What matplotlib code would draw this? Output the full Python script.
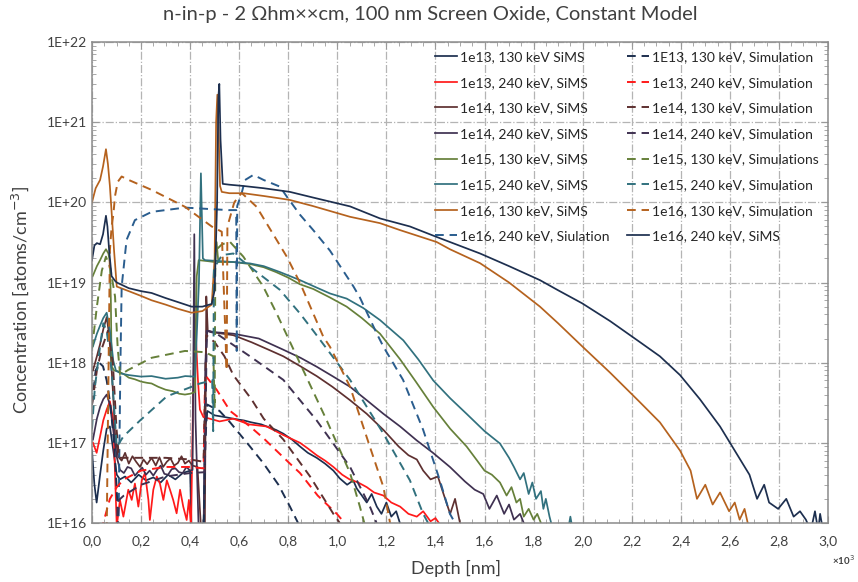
import numpy as np
import matplotlib
matplotlib.use("Agg")
import matplotlib.pyplot as plt
from matplotlib.ticker import MultipleLocator, FuncFormatter, LogLocator, NullFormatter

plt.rcParams['font.family'] = ['Lato', 'DejaVu Sans']

# ---- SIMS profiles (depth in nm, concentration in atoms/cm^3) ----
d_13_130 = [0, 10, 19, 33, 46, 60, 73, 87, 101, 114, 135, 160, 190, 220, 250, 280, 310, 340, 370, 400,
            406, 455, 462, 470, 500, 540, 576, 620, 650, 690, 712, 750, 780, 815, 848, 880, 916, 950, 984, 1010,
            1040, 1065, 1079, 1100, 1120, 1140, 1161, 1180, 1200, 1220, 1240, 1255]
c_13_130 = [8e16, 3e16, 1.8e16, 4e16, 8e16, 1.5e17, 1.6e17, 8e16, 4e16, 3.5e16, 3.8e16, 3.2e16, 4e16, 3.4e16, 3.7e16, 3.2e16, 4e16, 3.5e16, 4.2e16, 4.5e16,
            8e15, 8e15, 1.5e17, 2.5e17, 2.2e17, 2.1e17, 2.0e17, 1.9e17, 1.8e17, 1.7e17, 1.6e17, 1.45e17, 1.3e17, 1.1e17, 9e16, 7.5e16, 6.5e16, 5.5e16, 4.5e16, 3.6e16,
            3.0e16, 3.4e16, 2.7e16, 2.2e16, 1.8e16, 2.3e16, 1.6e16, 1.3e16, 1.8e16, 1.2e16, 1.4e16, 1e16]

d_13_240 = [4, 19, 33, 46, 60, 73, 87, 101, 114, 128, 148, 162, 175, 189, 203, 216, 230, 236, 250, 264,
            277, 291, 305, 318, 331, 345, 359, 372, 386, 395, 404, 412, 420, 432, 440, 454, 480, 520, 576, 640,
            712, 780, 848, 880, 916, 950, 984, 1020, 1050, 1085, 1120, 1150, 1188, 1220, 1256, 1290, 1324, 1350, 1380, 1400, 1425]
c_13_240 = [1e17, 7.5e16, 1.2e17, 1.9e17, 2.6e17, 3.3e17, 1.9e17, 9e15, 1.94e16, 1.2e16, 2.6e16, 1.94e16, 3.1e16, 1.6e16, 3.4e16, 4.2e16, 1.94e16, 1.09e16, 2.6e16, 3.8e16,
            3.1e16, 1.94e16, 3.4e16, 2.6e16, 1.94e16, 1.32e16, 2.6e16, 1.6e16, 1.09e16, 1.94e16, 9e15, 3.5e17, 3.5e18, 6e17, 2.6e17, 2.1e17, 2.0e17, 1.85e17, 2.0e17, 1.7e17,
            1.6e17, 1.25e17, 1.0e17, 8.5e16, 7e16, 6e16, 5e16, 4e16, 3.5e16, 3.2e16, 2.8e16, 2.4e16, 2.2e16, 1.8e16, 1.6e16, 1.3e16, 1.2e16, 1.4e16, 1.05e16, 1.15e16, 9e15]

d_14_130 = [4, 20, 33, 46, 60, 73, 87, 94, 107, 121, 135, 150, 165, 180, 196, 210, 225, 243, 260, 275,
            290, 305, 320, 335, 350, 365, 379, 395, 410, 430, 445, 460, 466, 472, 490, 576, 650, 720, 780, 850,
            916, 980, 1052, 1120, 1188, 1250, 1290, 1324, 1350, 1380, 1410, 1433, 1460, 1480, 1500]
c_14_130 = [8e17, 1.2e18, 1.7e18, 2.6e18, 3.7e18, 1.9e18, 3.6e17, 1.3e17, 6.7e16, 6e16, 7.5e16, 5.5e16, 6.8e16, 5.8e16, 5e16, 6.2e16, 5.4e16, 6.5e16, 5.2e16, 6.6e16,
            5e16, 5.8e16, 6.4e16, 5.2e16, 5.6e16, 6.8e16, 5.5e16, 6e16, 5.2e16, 5e16, 8e15, 8e15, 6.7e18, 2.5e18, 2.4e18, 2.2e18, 1.8e18, 1.45e18, 1.2e18, 9e17,
            6.8e17, 5e17, 3.4e17, 2.3e17, 1.45e17, 9e16, 7e16, 6.2e16, 4.5e16, 3.5e16, 3.8e16, 2.3e16, 1.3e16, 2e16, 1e16]

d_14_240 = [4, 20, 33, 46, 60, 73, 87, 101, 114, 130, 145, 160, 175, 190, 205, 220, 235, 250, 265, 280,
            295, 310, 325, 340, 355, 370, 385, 400, 410, 417, 422, 435, 455, 462, 470, 500, 576, 680, 780, 850,
            916, 980, 1052, 1120, 1188, 1256, 1324, 1390, 1459, 1520, 1560, 1595, 1620, 1650, 1680, 1700, 1720, 1745, 1760]
c_14_240 = [1.1e17, 2e17, 2.8e17, 3.5e17, 4e17, 3e17, 1.45e17, 6.7e16, 4.6e16, 4.2e16, 5e16, 4.8e16, 3.9e16, 4.4e16, 4.9e16, 4e16, 4.5e16, 3.9e16, 4.6e16, 5.2e16,
            4.1e16, 4e16, 4.7e16, 4.8e16, 4.3e16, 4.2e16, 5e16, 4.5e16, 4.6e16, 4e19, 2e17, 8e15, 8e15, 1e18, 2.5e18, 2.4e18, 2.3e18, 2.0e18, 1.45e18, 1.15e18,
            8.9e17, 6.8e17, 5e17, 3.4e17, 2.3e17, 1.6e17, 1.07e17, 7.5e16, 5e16, 3.3e16, 2.6e16, 2.3e16, 1.5e16, 2.2e16, 1.3e16, 1.7e16, 1.1e16, 1.3e16, 1e16]

d_15_130 = [3, 20, 33, 46, 57, 67, 73, 77, 80, 90, 107, 130, 150, 175, 200, 225, 243, 270, 300, 330,
            355, 379, 400, 420, 427, 435, 470, 500, 508, 515, 540, 576, 644, 700, 750, 800, 848, 902, 970, 1038,
            1100, 1174, 1256, 1320, 1391, 1460, 1527, 1570, 1600, 1630, 1663, 1690, 1710, 1730, 1745, 1760, 1780, 1800, 1815, 1830]
c_15_130 = [1.2e19, 1.6e19, 1.9e19, 2.3e19, 2.6e19, 2.3e19, 1.8e19, 6e18, 9e17, 8e17, 7.8e17, 7.2e17, 6.5e17, 6.2e17, 5.8e17, 5.6e17, 5.5e17, 5e17, 4.6e17, 4.4e17,
            4.1e17, 4e17, 4.1e17, 4.3e17, 1.2e19, 1.9e19, 1.85e19, 1.8e19, 3.2e19, 1.8e19, 1.8e19, 1.8e19, 1.7e19, 1.55e19, 1.35e19, 1.15e19, 9.5e18, 8.3e18, 6.5e18, 5e18,
            3.6e18, 2.3e18, 1.1e18, 5.8e17, 2.8e17, 1.5e17, 9e16, 6e16, 4.5e16, 4e16, 3.2e16, 2.2e16, 2.8e16, 1.8e16, 2e16, 1.2e16, 1.5e16, 1.1e16, 1.3e16, 1e16]

d_15_240 = [4, 20, 33, 46, 60, 73, 87, 98, 120, 150, 200, 243, 300, 350, 380, 420, 436, 444, 452, 461,
            520, 576, 644, 700, 766, 848, 910, 970, 1038, 1106, 1174, 1269, 1330, 1391, 1460, 1527, 1600, 1663, 1700, 1720,
            1745, 1760, 1780, 1795, 1810, 1830, 1840, 1850, 1865, 1880, 1940, 1950, 1960]
c_15_240 = [1.6e18, 2.3e18, 2.9e18, 3.6e18, 4.2e18, 2.5e18, 1.05e18, 7.9e17, 7.3e17, 7e17, 6.7e17, 6.8e17, 6.3e17, 6.5e17, 6.8e17, 6.7e17, 1e19, 2.3e20, 2e19, 1.9e19,
            1.85e19, 1.8e19, 1.73e19, 1.6e19, 1.35e19, 1.07e19, 8.8e18, 7.3e18, 6.3e18, 4.8e18, 3.4e18, 1.9e18, 1.1e18, 6e17, 3.6e17, 2.3e17, 1.4e17, 9.8e16, 6.5e16, 5e16,
            3.5e16, 4.2e16, 2.3e16, 3.2e16, 2e16, 2.5e16, 1.5e16, 2e16, 1.2e16, 8e15, 8e15, 1.2e16, 8e15]

d_16_130 = [0, 15, 33, 45, 57, 65, 73, 80, 90, 101, 150, 200, 243, 300, 350, 406, 450, 488, 500, 506,
            511, 516, 522, 529, 560, 617, 700, 766, 807, 900, 1052, 1174, 1256, 1405, 1459, 1582, 1700, 1826, 1900, 1998,
            2112, 2234, 2315, 2397, 2440, 2466, 2500, 2530, 2560, 2597, 2620, 2640, 2660, 2680]
c_16_130 = [1e20, 1.5e20, 1.9e20, 2.8e20, 4.6e20, 3e20, 1.6e20, 7.6e19, 2.5e19, 8.9e18, 7.8e18, 6.8e18, 6e18, 5.3e18, 4.7e18, 4.2e18, 4.4e18, 5.3e18, 2e19, 1e21,
            2.2e21, 8e20, 1.6e20, 1.35e20, 1.3e20, 1.3e20, 1.2e20, 1.12e20, 1.07e20, 9e19, 6.6e19, 5.5e19, 4.5e19, 3.2e19, 2.6e19, 1.74e19, 1e19, 5e18, 3.1e18, 1.6e18,
            7.5e17, 3.2e17, 1.8e17, 8e16, 4.5e16, 2e16, 3e16, 1.7e16, 2.4e16, 1.4e16, 1.8e16, 1.1e16, 1.5e16, 8e15]

d_16_240 = [0, 10, 20, 33, 45, 57, 63, 70, 80, 94, 101, 150, 200, 243, 300, 350, 406, 450, 488, 500,
            510, 515, 519, 524, 533, 560, 617, 700, 807, 900, 1052, 1174, 1296, 1405, 1459, 1582, 1700, 1826, 1900, 1998,
            2112, 2234, 2315, 2397, 2478, 2560, 2620, 2680, 2711, 2740, 2760, 2797, 2830, 2860, 2886, 2910, 2930, 2947, 2960, 2968, 2980]
c_16_240 = [1.9e19, 2.9e19, 3.1e19, 3e19, 4e19, 6.8e19, 5e19, 2.5e19, 1.2e19, 1.05e19, 1e19, 8.5e18, 7.8e18, 7.4e18, 6.4e18, 5.7e18, 5e18, 5e18, 5.4e18, 8e18,
            1e20, 2e21, 3e21, 6e20, 1.7e20, 1.66e20, 1.6e20, 1.5e20, 1.35e20, 1.15e20, 8.9e19, 6.3e19, 5e19, 3.7e19, 3.2e19, 2.3e19, 1.6e19, 1.07e19, 8e18, 5.5e18,
            3.3e18, 1.8e18, 1.2e18, 7e17, 3.5e17, 1.6e17, 8e16, 4e16, 2e16, 3e16, 1.8e16, 1.5e16, 2e16, 1.2e16, 1.4e16, 1.1e16, 8e15, 1.4e16, 8e15, 1.3e16, 8e15]

# ---- simulated profiles ----
ds_13_130 = [0, 15, 30, 45, 60, 75, 90, 100, 108, 455, 462, 470, 520, 563, 644, 698, 760, 807, 840]
cs_13_130 = [3e17, 8e17, 1e18, 9e17, 6e17, 3e17, 1e17, 3e16, 8e15, 8e15, 1e17, 3e17, 2.5e17, 1.8e17, 9e16, 5.6e16, 3e16, 1.6e16, 1e16]

ds_13_240 = [40, 46, 73, 101, 130, 200, 300, 400, 455, 461, 508, 563, 644, 698, 807, 848, 920, 998, 1030]
cs_13_240 = [8e15, 1e16, 2e16, 2.8e16, 3.5e16, 4.5e16, 5e16, 5e16, 4.8e16, 7e17, 4.6e17, 2.5e17, 1.6e17, 1.15e17, 5.5e16, 4.2e16, 2.2e16, 1.3e16, 1e16]

ds_14_130 = [0, 20, 40, 65, 85, 100, 110, 150, 200, 300, 400, 455, 466, 500, 540, 576, 650, 700, 780, 889, 984, 1010]
cs_14_130 = [3e17, 8e17, 1.5e18, 2.5e18, 1e18, 1.5e17, 6.5e16, 6.5e16, 6.5e16, 6.5e16, 6.2e16, 5.8e16, 2.2e18, 1.8e18, 1.2e18, 7e17, 3.5e17, 2e17, 1.1e17, 3.8e16, 1.3e16, 1e16]

ds_14_240 = [100, 107, 130, 200, 300, 400, 460, 468, 508, 644, 780, 916, 1052, 1133, 1160]
cs_14_240 = [8e15, 1.9e16, 2.2e16, 3e16, 3.8e16, 4.2e16, 4.3e16, 2.5e18, 2.3e18, 1.2e18, 6.1e17, 1.9e17, 5e16, 1.6e16, 1e16]

ds_15_130 = [0, 20, 40, 57, 75, 94, 105, 115, 147, 243, 379, 461, 495, 500, 503, 530, 563, 617, 698, 753, 848, 957, 1052, 1092, 1110]
cs_15_130 = [1.5e18, 5e18, 1.4e19, 2.1e19, 1.5e19, 6.7e18, 1.5e18, 7e17, 8.1e17, 1.15e18, 1.4e18, 1.35e18, 1.2e18, 2.7e17, 2.5e19, 3e19, 3.2e19, 2.1e19, 8.9e18, 4.1e18, 9.8e17, 1.9e17, 4.2e16, 1.6e16, 1e16]

ds_15_240 = [0, 12, 33, 46, 60, 80, 101, 128, 196, 305, 406, 440, 490, 494, 497, 530, 576, 644, 766, 848, 902, 1052, 1188, 1296, 1350, 1370]
cs_15_240 = [1.5e17, 5e17, 1.6e18, 3.1e18, 2.5e18, 8e17, 8.9e16, 1.2e17, 1.9e17, 3.8e17, 5e17, 5.5e17, 6e17, 1.4e17, 1.5e19, 2.2e19, 2.3e19, 1.57e19, 8.1e18, 4.1e18, 2.5e18, 6.1e17, 1.3e17, 3.4e16, 1.3e16, 1e16]

ds_16_130 = [60, 73, 80, 87, 94, 105, 121, 150, 243, 379, 488, 529, 549, 552, 580, 610, 671, 794, 848, 943, 970, 1052, 1133, 1188, 1215]
cs_16_130 = [8e15, 2.5e19, 5e19, 7e19, 1.2e20, 1.8e20, 2.1e20, 1.9e20, 1.43e20, 8.8e19, 5e19, 4.3e19, 8e17, 5e19, 1e20, 1.31e20, 8.8e19, 2.1e19, 9.9e18, 2.1e18, 1.58e18, 5e17, 8.9e16, 2.8e16, 1e16]

ds_16_240 = [108, 112, 116, 121, 141, 175, 243, 379, 556, 588, 590, 592, 610, 624, 658, 700, 766, 794, 848, 902,
             970, 1065, 1092, 1161, 1188, 1268, 1350, 1418, 1459, 1480]
cs_16_240 = [8e15, 1e17, 1e18, 8.9e18, 3.4e19, 6e19, 7.6e19, 8.6e19, 8e19, 8e19, 1.4e18, 9e19, 1.3e20, 1.9e20, 2.2e20, 1.9e20, 1.57e20, 1.18e20, 7e19, 4.5e19,
             2.5e19, 9e18, 6.5e18, 2.3e18, 1.58e18, 6.1e17, 1.45e17, 3.4e16, 1.3e16, 1e16]

navy = '#1d2f4f'
red = '#ff1a1a'
brown = '#5e3030'
purple = '#3f3151'
green = '#66803a'
teal = '#31717e'
orange = '#b5621e'
blue = '#2a5d8e'
dash = (0, (4.5, 3))

# order follows the legend (column 1, then column 2)
lines = [
    (d_13_130, c_13_130, navy, '-', '1e13, 130 keV SiMS'),
    (d_13_240, c_13_240, red, '-', '1e13, 240 keV, SiMS'),
    (d_14_130, c_14_130, brown, '-', '1e14, 130 keV, SiMS'),
    (d_14_240, c_14_240, purple, '-', '1e14, 240 keV, SiMS'),
    (d_15_130, c_15_130, green, '-', '1e15, 130 keV, SiMS'),
    (d_15_240, c_15_240, teal, '-', '1e15, 240 keV, SiMS'),
    (d_16_130, c_16_130, orange, '-', '1e16, 130 keV, SiMS'),
    (ds_16_240, cs_16_240, blue, dash, '1e16, 240 keV, Siulation'),
    (ds_13_130, cs_13_130, navy, dash, '1E13, 130 keV, Simulation'),
    (ds_13_240, cs_13_240, red, dash, '1e13, 240 keV, Simulation'),
    (ds_14_130, cs_14_130, brown, dash, '1e14, 130 keV, Simulation'),
    (ds_14_240, cs_14_240, purple, dash, '1e14, 240 keV, Simulation'),
    (ds_15_130, cs_15_130, green, dash, '1e15, 130 keV, Simulations'),
    (ds_15_240, cs_15_240, teal, dash, '1e15, 240 keV, Simulation'),
    (ds_16_130, cs_16_130, orange, dash, '1e16, 130 keV, Simulation'),
    (d_16_240, c_16_240, navy, '-', '1e16, 240 keV, SiMS'),
]

fig = plt.figure(figsize=(8.58, 5.82), dpi=100)
ax = fig.add_axes([0.1072, 0.1014, 0.8578, 0.8264])

for d, c, col, ls, lab in lines:
    lw = 1.25 if ls == '-' else 1.4
    ax.plot(d, c, color=col, linestyle=ls, linewidth=lw, label=lab)

ax.set_yscale('log')
ax.set_xlim(0, 3000)
ax.set_ylim(1e16, 1e22)

ax.xaxis.set_major_locator(MultipleLocator(200))
ax.xaxis.set_minor_locator(MultipleLocator(50))
ax.xaxis.set_major_formatter(FuncFormatter(lambda v, p: f"{v/1000:.1f}".replace('.', ',')))
ax.yaxis.set_major_locator(LogLocator(base=10, numticks=10))
ax.yaxis.set_minor_locator(LogLocator(base=10, subs=np.arange(2, 10), numticks=100))
ax.yaxis.set_minor_formatter(NullFormatter())
ax.yaxis.set_major_formatter(FuncFormatter(lambda v, p: f"1E+{int(round(np.log10(v)))}"))

ax.tick_params(which='both', direction='in', top=True, right=True, colors='#9a9a9a',
               labelcolor='#404040', labelsize=10)
ax.tick_params(which='major', length=5)
ax.tick_params(which='minor', length=3)
ax.tick_params(axis='x', pad=9)

ax.grid(True, which='major', color='#b4b4b4', linestyle='-.', linewidth=0.9)
for s in ax.spines.values():
    s.set_color('#8c8c8c')
    s.set_linewidth(1.1)

fig.text(0.501, 0.975, 'n-in-p - 2 \u03a9hm\u00d7\u00d7cm, 100 nm Screen Oxide, Constant Model',
         ha='center', va='center', fontsize=14.5, color='#404040')
fig.text(0.024, 0.485, 'Concentration [atoms/cm$^{-3}$]', rotation=90, ha='center', va='center',
         fontsize=13, color='#404040')
fig.text(0.532, 0.024, 'Depth [nm]', ha='center', va='center', fontsize=13, color='#404040')
fig.text(0.970, 0.038, '\u00d710$^{3}$', ha='left', va='center', fontsize=7, color='#404040',
         fontweight='bold')

ax.legend(loc='upper right', bbox_to_anchor=(1.0, 1.0), ncol=2, frameon=False, fontsize=10,
          handlelength=1.6, handletextpad=0.2, columnspacing=1.3, labelspacing=0.98,
          borderpad=0.15, labelcolor='#262626')

fig.savefig('out.png', dpi=100)
